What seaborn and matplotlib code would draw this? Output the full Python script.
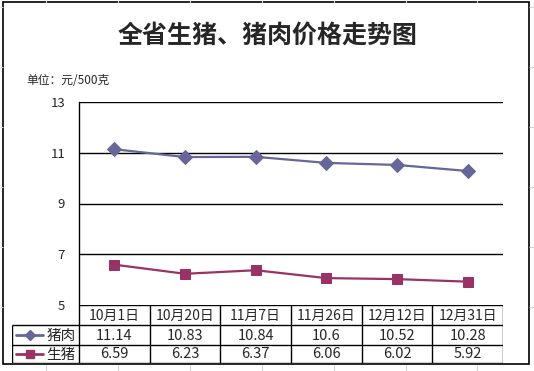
import matplotlib
matplotlib.use("Agg")
import matplotlib.pyplot as plt
import seaborn as sns
import pandas as pd
from matplotlib.patches import Rectangle
from matplotlib.lines import Line2D

# data
dates = ["10月1日", "10月20日", "11月7日", "11月26日", "12月12日", "12月31日"]
pork = [11.14, 10.83, 10.84, 10.6, 10.52, 10.28]
hog = [6.59, 6.23, 6.37, 6.06, 6.02, 5.92]
pork_labels = ["11.14", "10.83", "10.84", "10.6", "10.52", "10.28"]
hog_labels = ["6.59", "6.23", "6.37", "6.06", "6.02", "5.92"]
series_names = ["猪肉", "生猪"]
yticks = [5, 7, 9, 11, 13]

pork_color = "#666699"
hog_color = "#993366"

sns.set_style("white")
plt.rcParams['font.family'] = ['Noto Sans CJK SC', 'DejaVu Sans']

W, H = 534, 371
fig = plt.figure(figsize=(W / 100, H / 100), dpi=100)


def box(x0, y0, x1, y1):
    # pixel box (top-left origin) -> figure rect
    return [x0 / W, 1 - y1 / H, (x1 - x0) / W, (y1 - y0) / H]


# faint spreadsheet grid around the chart
bg = fig.add_axes([0, 0, 1, 1], zorder=-5)
bg.set_xlim(0, W)
bg.set_ylim(H, 0)
bg.axis("off")
for gx in [46, 118, 190, 262, 334, 406, 477]:
    bg.vlines(gx, 365, H, color="#d4d4d4", lw=0.8)
    bg.vlines(gx, 0, 3, color="#d4d4d4", lw=0.8)
for gy in [7, 67, 127, 187, 247, 307]:
    bg.hlines(gy, 0, 3, color="#d4d4d4", lw=0.8)
    bg.hlines(gy, 529, W, color="#d4d4d4", lw=0.8)
bg.add_patch(Rectangle((3, 2), 526, 362, fill=False, ec="black", lw=1.2))

# main plot
ax = fig.add_axes(box(79, 102, 503, 305))
df = pd.DataFrame({"x": range(len(dates)), "pork": pork, "hog": hog})
sns.lineplot(data=df, x="x", y="pork", ax=ax, color=pork_color, lw=1.6,
             marker="D", markersize=7, markeredgecolor=pork_color)
sns.lineplot(data=df, x="x", y="hog", ax=ax, color=hog_color, lw=1.6,
             marker="s", markersize=7.5, markeredgecolor=hog_color)
ax.set_xlim(-0.5, len(dates) - 0.5)
ax.set_ylim(5, 13)
ax.set_yticks(yticks)
ax.set_yticklabels([str(t) for t in yticks], fontsize=9.5)
ax.set_xticks([])
ax.set_xlabel("")
ax.set_ylabel("")
for t in yticks[1:]:
    ax.axhline(t, color="black", lw=1, zorder=0)
for s in ["top", "right", "bottom"]:
    ax.spines[s].set_visible(False)
ax.spines["left"].set_color("black")
ax.spines["left"].set_linewidth(1)
ax.tick_params(axis="y", length=0, pad=10)

# data table under the plot
col_w = 424 / len(dates)
left_units = (79 - 12) / col_w
tab = fig.add_axes(box(12, 305, 503, 363))
tab.set_xlim(-0.5 - left_units, len(dates) - 0.5)
tab.set_ylim(58, 0)
tab.axis("off")
lk = dict(color="black", lw=1)
x_l, x_p, x_r = -0.5 - left_units, -0.5, len(dates) - 0.5
tab.hlines(0, x_p, x_r, **lk)
tab.hlines([20, 40, 58], x_l, x_r, **lk)
tab.vlines([i - 0.5 for i in range(len(dates) + 1)], 0, 58, **lk)
tab.vlines(x_l, 20, 58, **lk)

for i, d in enumerate(dates):
    tab.text(i, 10.5, d, ha="center", va="center", fontsize=10)
    tab.text(i, 30.5, pork_labels[i], ha="center", va="center", fontsize=10.5)
    tab.text(i, 49.5, hog_labels[i], ha="center", va="center", fontsize=10.5)


def px_to_unit(p):
    return (p - 79) / col_w - 0.5


for row_y, name, color, mk, ms in [(30, series_names[0], pork_color, "D", 5),
                                   (49, series_names[1], hog_color, "s", 6)]:
    tab.add_line(Line2D([px_to_unit(16), px_to_unit(43)], [row_y, row_y],
                        color=color, lw=2))
    tab.plot([px_to_unit(30)], [row_y], marker=mk, ms=ms, color=color)
    tab.text(px_to_unit(61), row_y + 0.5, name, ha="center", va="center", fontsize=10.5)

# titles
fig.text(268 / W, 1 - 36 / H, "全省生猪、猪肉价格走势图", ha="center", va="center",
         fontsize=18, fontweight="bold")
fig.text(26 / W, 1 - 80 / H, "单位：元/500克", ha="left", va="center", fontsize=8.5)

fig.savefig("out.png", dpi=100)
